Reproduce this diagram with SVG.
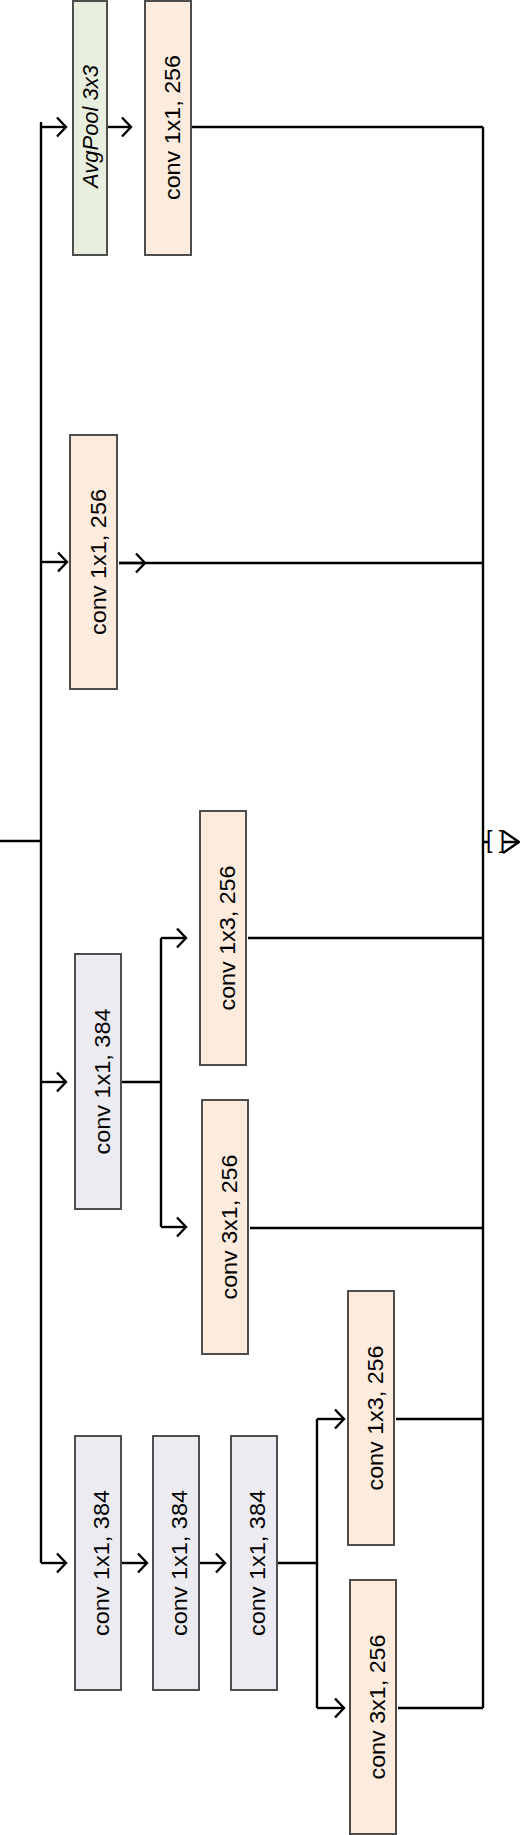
<svg xmlns="http://www.w3.org/2000/svg" width="520" height="1835" viewBox="0 0 520 1835">
<style>
.box{stroke:#4d4d4d;stroke-width:2}
.o{fill:#fdebdd}
.p{fill:#ecebf2}
.g{fill:#e8efdf}
.t{font-family:"Liberation Sans",Arial,sans-serif;font-size:22.5px;fill:#000;text-anchor:middle}
.e{fill:none;stroke:#000;stroke-width:2.4}
</style>
<defs>
<marker id="ah" markerUnits="userSpaceOnUse" markerWidth="24" markerHeight="24" viewBox="-12 -12 24 24" refX="0" refY="0" orient="auto" overflow="visible">
<path d="M-9,-9.5 L0,0 L-9,9.5" fill="none" stroke="#000" stroke-width="2.4"/>
</marker>
<marker id="ahb" markerUnits="userSpaceOnUse" markerWidth="40" markerHeight="40" viewBox="-20 -20 40 40" refX="0" refY="0" orient="auto" overflow="visible">
<path d="M-16,-11 L0,0 L-16,11" fill="none" stroke="#000" stroke-width="2.4"/>
</marker>
</defs>
<rect width="520" height="1835" fill="#fff"/>
<g id="connectors">
<path class="e" d="M0,841 H41"/>
<path class="e" d="M41,122 V1563"/>
<path class="e" d="M483,127 V1708"/>
<path class="e" d="M41,127 H66" marker-end="url(#ah)"/>
<path class="e" d="M108,127 H131" marker-end="url(#ah)"/>
<path class="e" d="M192,127 H483"/>
<path class="e" d="M41,562 H67" marker-end="url(#ah)"/>
<path class="e" d="M119,563 H145" marker-end="url(#ah)"/>
<path class="e" d="M119,563 H483"/>
<path class="e" d="M41,1082 H66" marker-end="url(#ah)"/>
<path class="e" d="M122,1082 H161"/>
<path class="e" d="M161,938 V1227"/>
<path class="e" d="M161,938 H186" marker-end="url(#ah)"/>
<path class="e" d="M161,1227 H186" marker-end="url(#ah)"/>
<path class="e" d="M248,938 H483"/>
<path class="e" d="M250,1228 H483"/>
<path class="e" d="M41,1563 H66" marker-end="url(#ah)"/>
<path class="e" d="M122,1563 H147" marker-end="url(#ah)"/>
<path class="e" d="M200,1563 H225" marker-end="url(#ah)"/>
<path class="e" d="M278,1563 H317"/>
<path class="e" d="M317,1419 V1708"/>
<path class="e" d="M317,1419 H344" marker-end="url(#ah)"/>
<path class="e" d="M317,1708 H344" marker-end="url(#ah)"/>
<path class="e" d="M396,1419 H483"/>
<path class="e" d="M398,1708 H483"/>
<path class="e" d="M483,842 H519" marker-end="url(#ahb)"/>
<rect x="488" y="830" width="14.5" height="24" fill="#fff"/>
<text x="495.5" y="848" font-family="'Liberation Sans',Arial,sans-serif" font-size="23" text-anchor="middle">[ ]</text>
</g>
<g id="avgpool">
<rect class="box g" x="73" y="1" width="34" height="254"/>
<text class="t" transform="translate(97.5,126.5) rotate(-90)" font-style="italic" font-size="23" textLength="123" lengthAdjust="spacingAndGlyphs">AvgPool 3x3</text>
</g>
<g id="conv-pool">
<rect class="box o" x="145" y="1" width="46" height="254"/>
<text class="t" transform="translate(180,127.5) rotate(-90)" textLength="145" lengthAdjust="spacingAndGlyphs">conv 1x1, 256</text>
</g>
<g id="conv-b2">
<rect class="box o" x="70" y="435" width="47" height="254"/>
<text class="t" transform="translate(106,562) rotate(-90)" textLength="146" lengthAdjust="spacingAndGlyphs">conv 1x1, 256</text>
</g>
<g id="conv-b3">
<rect class="box p" x="75" y="954" width="46" height="255"/>
<text class="t" transform="translate(109.5,1081.5) rotate(-90)" textLength="146" lengthAdjust="spacingAndGlyphs">conv 1x1, 384</text>
</g>
<g id="conv-b3-1x3">
<rect class="box o" x="200" y="811" width="46" height="254"/>
<text class="t" transform="translate(234.5,938) rotate(-90)" textLength="145" lengthAdjust="spacingAndGlyphs">conv 1x3, 256</text>
</g>
<g id="conv-b3-3x1">
<rect class="box o" x="202" y="1100" width="46" height="254"/>
<text class="t" transform="translate(236.5,1227) rotate(-90)" textLength="145" lengthAdjust="spacingAndGlyphs">conv 3x1, 256</text>
</g>
<g id="conv-b4-a">
<rect class="box p" x="75" y="1436" width="46" height="254"/>
<text class="t" transform="translate(109,1563) rotate(-90)" textLength="146" lengthAdjust="spacingAndGlyphs">conv 1x1, 384</text>
</g>
<g id="conv-b4-b">
<rect class="box p" x="153" y="1436" width="46" height="254"/>
<text class="t" transform="translate(187,1563) rotate(-90)" textLength="146" lengthAdjust="spacingAndGlyphs">conv 1x1, 384</text>
</g>
<g id="conv-b4-c">
<rect class="box p" x="231" y="1436" width="46" height="254"/>
<text class="t" transform="translate(265,1563) rotate(-90)" textLength="146" lengthAdjust="spacingAndGlyphs">conv 1x1, 384</text>
</g>
<g id="conv-b4-1x3">
<rect class="box o" x="348" y="1291" width="46" height="254"/>
<text class="t" transform="translate(382.5,1418) rotate(-90)" textLength="145" lengthAdjust="spacingAndGlyphs">conv 1x3, 256</text>
</g>
<g id="conv-b4-3x1">
<rect class="box o" x="350" y="1580" width="46" height="254"/>
<text class="t" transform="translate(384.5,1707) rotate(-90)" textLength="145" lengthAdjust="spacingAndGlyphs">conv 3x1, 256</text>
</g>
</svg>
